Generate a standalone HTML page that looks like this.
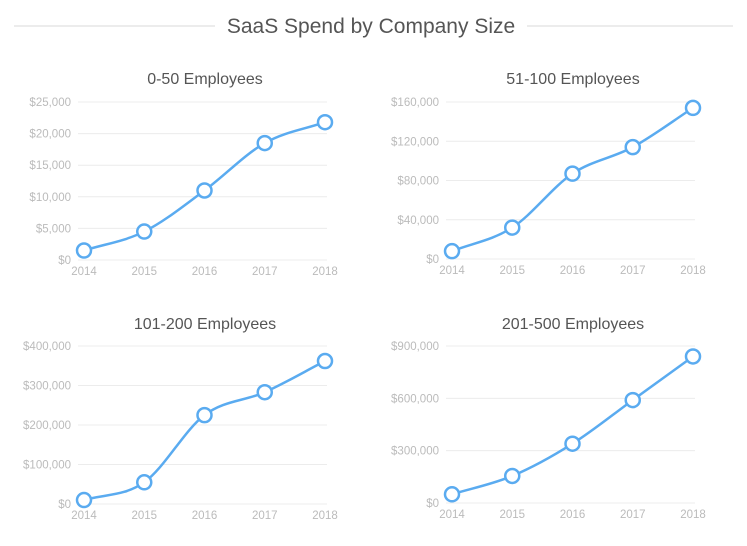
<!DOCTYPE html>
<html><head><meta charset="utf-8"><style>
body{margin:0;background:#fff;width:747px;height:541px;overflow:hidden;font-family:"Liberation Sans",sans-serif}
</style></head><body>
<svg width="747" height="541">
<line x1="14" y1="26" x2="215" y2="26" stroke="#e6e6e6" stroke-width="1.5"/>
<line x1="527" y1="26" x2="733" y2="26" stroke="#e6e6e6" stroke-width="1.5"/>
<text x="371" y="33" text-anchor="middle" font-size="21" fill="#555">SaaS Spend by Company Size</text>
<g id="charts"></g>
</svg>
<script>
const years = ['2014','2015','2016','2017','2018'];
const titles = ['0-50 Employees','51-100 Employees','101-200 Employees','201-500 Employees'];
const values1 = [1500, 4500, 11000, 18500, 21800];
const values2 = [8000, 32000, 87000, 114000, 154000];
const values3 = [10000, 55000, 225000, 283000, 362000];
const values4 = [50000, 155000, 340000, 590000, 840000];
const ticks1 = [0, 5000, 10000, 15000, 20000, 25000];
const ticks2 = [0, 40000, 80000, 120000, 160000];
const ticks3 = [0, 100000, 200000, 300000, 400000];
const ticks4 = [0, 300000, 600000, 900000];

const NS='http://www.w3.org/2000/svg';
const root=document.getElementById('charts');
function mk(tag,attrs,parent){const e=document.createElementNS(NS,tag);for(const k in attrs)e.setAttribute(k,attrs[k]);parent.appendChild(e);return e;}
function fmt(v){return '$'+v.toLocaleString('en-US');}
function monotone(pts){
  const n=pts.length,dx=[],m=[],t=[];
  for(let i=0;i<n-1;i++){dx.push(pts[i+1][0]-pts[i][0]);m.push((pts[i+1][1]-pts[i][1])/dx[i]);}
  t[0]=m[0];t[n-1]=m[n-2];
  for(let i=1;i<n-1;i++){t[i]=m[i-1]*m[i]<=0?0:(m[i-1]+m[i])/2;}
  let d='M'+pts[0][0]+','+pts[0][1];
  for(let i=0;i<n-1;i++){const h=dx[i]/3;
    d+=' C'+(pts[i][0]+h)+','+(pts[i][1]+t[i]*h)+' '+(pts[i+1][0]-h)+','+(pts[i+1][1]-t[i+1]*h)+' '+pts[i+1][0]+','+pts[i+1][1];}
  return d;
}
const layouts=[
 {x0:84,x1:325,yTop:102,yBot:260,ty:84,tc:205,vals:values1,ticks:ticks1},
 {x0:452,x1:693,yTop:102,yBot:259,ty:84,tc:573,vals:values2,ticks:ticks2},
 {x0:84,x1:325,yTop:346,yBot:504,ty:329,tc:205,vals:values3,ticks:ticks3},
 {x0:452,x1:693,yTop:346,yBot:503,ty:329,tc:573,vals:values4,ticks:ticks4}
];
layouts.forEach((L,ci)=>{
  const g=mk('g',{},root);
  
  
  const max=L.ticks[L.ticks.length-1];
  const ys=v=>L.yBot-(v/max)*(L.yBot-L.yTop);
  const xs=i=>L.x0+i*(L.x1-L.x0)/(years.length-1);
  const t=mk('text',{x:L.tc,y:L.ty,'text-anchor':'middle','font-size':16,fill:'#555'},g);
  t.textContent=titles[ci];
  
  
  L.ticks.forEach(v=>{
    const y=ys(v);
    const ln=mk('line',{x1:L.x0-6,x2:L.x1+2,y1:y,y2:y,stroke:'#ececec','stroke-width':1},g);
    
    
    const tx=mk('text',{x:L.x0-13,y:y+4,'text-anchor':'end','font-size':11.5,fill:'#bbb'},g);
    tx.textContent=fmt(v);
    
    
  });
  years.forEach((yr,i)=>{
    const tx=mk('text',{x:xs(i),y:L.yBot+15,'text-anchor':'middle','font-size':11.5,fill:'#bbb'},g);
    tx.textContent=yr;
    
    
  });
  const pts=L.vals.map((v,i)=>[xs(i),ys(v)]);
  const p=mk('path',{d:monotone(pts),fill:'none',stroke:'#5aabf0','stroke-width':2.5},g);
  
  
  pts.forEach(pt=>{
    const c=mk('circle',{cx:pt[0],cy:pt[1],r:7,fill:'#fff',stroke:'#5aabf0','stroke-width':2.5},g);
    
    
  });
});
</script>
</body></html>
